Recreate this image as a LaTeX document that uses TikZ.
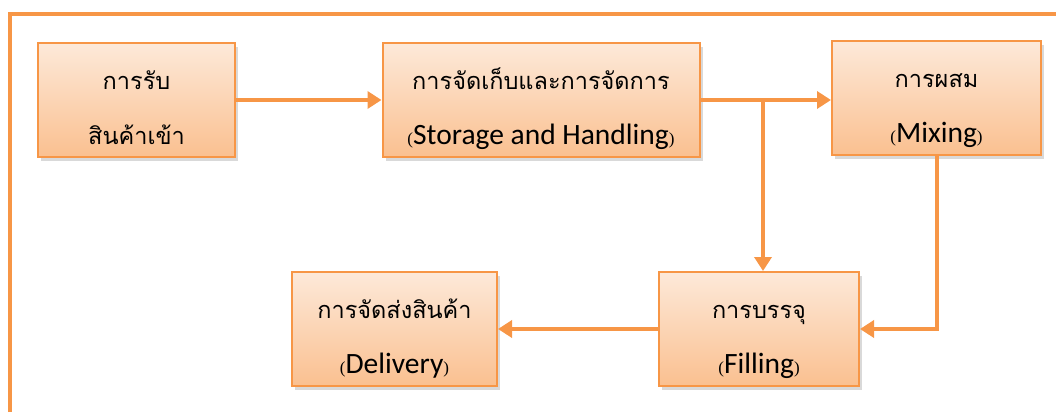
\documentclass[tikz,border=0pt]{standalone}
\usepackage{fontspec}
\setmainfont{Carlito}
\newfontfamily\thaifont[Script=Thai]{Loma}
\newfontfamily\parenfont{Liberation Serif}
\usetikzlibrary{arrows.meta,shadows}
\definecolor{lineorange}{HTML}{F79646}
\definecolor{boxtop}{HTML}{FDE9D9}
\definecolor{boxbottom}{HTML}{FAC090}
% English name in small round brackets
\newcommand{\engname}[1]{{\parenfont\fontsize{17}{17}\selectfont(}{\fontsize{29.5}{29.5}\selectfont #1}{\parenfont\fontsize{17}{17}\selectfont)}}
% two text lines of a stage
\newcommand{\stagetext}[2]{\rule{0pt}{43pt}{\thaifont #1}\\\rule[-10pt]{0pt}{10pt}#2}

\begin{document}
\begin{tikzpicture}[x=1pt,y=-1pt,
	stage/.style={draw=lineorange, line width=2pt, top color=boxtop, bottom color=boxbottom,
		minimum height=114pt, inner sep=0pt, align=center,
		font=\fontsize{23.5}{55}\selectfont,
		drop shadow={opacity=0.3, shadow xshift=3pt, shadow yshift=-4pt}},
	flow/.style={draw=lineorange, line width=4pt, -{Triangle[length=14pt,width=17pt]}}]
	\useasboundingbox (0,0) rectangle (1056,412);
	% frame
	\draw[lineorange, line width=4pt] (10,412) -- (10,14) -- (1056,14);
	% stages
	\node[stage, minimum width=197pt] (receive) at (136.5,100)
		{\stagetext{การรับ}{\thaifont สินค้าเข้า}};
	\node[stage, minimum width=317pt] (storage) at (541,100)
		{\stagetext{การจัดเก็บและการจัดการ}{\engname{Storage and Handling}}};
	\node[stage, minimum width=209pt] (mixing) at (936.5,98)
		{\stagetext{การผสม}{\engname{Mixing}}};
	\node[stage, minimum width=200pt] (filling) at (759,329)
		{\stagetext{การบรรจุ}{\engname{Filling}}};
	\node[stage, minimum width=205pt] (delivery) at (394.5,329)
		{\stagetext{การจัดส่งสินค้า}{\engname{Delivery}}};
	% flows
	\coordinate (split) at ([xshift=4pt]filling.north |- storage.east);
	\draw[flow] (receive) -- (storage);
	\draw[flow] (storage.east) -- (storage.east -| mixing.west);
	\draw[flow] (split) -- (split |- filling.north);
	\draw[flow] (mixing.south) |- (filling.east);
	\draw[flow] (filling) -- (delivery);
\end{tikzpicture}
\end{document}
